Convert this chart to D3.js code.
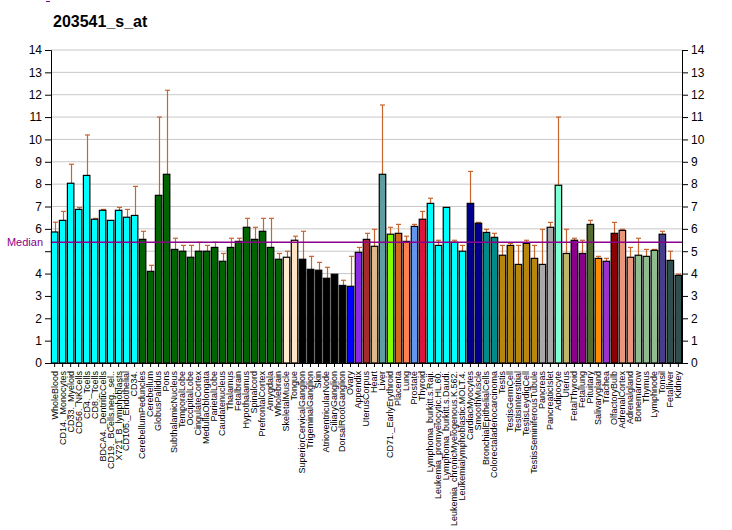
<!DOCTYPE html>
<html><head><meta charset="utf-8">
<script src="https://cdn.jsdelivr.net/npm/d3@7"></script>
<style>body{margin:0;background:#fff}svg{display:block;font-family:"Liberation Sans",Arial,sans-serif}</style>
</head><body><svg id="c" width="732" height="530"></svg>
<script>
const title = "203541_s_at";
const categories = ["WholeBlood","CD14._Monocytes","CD33._Myeloid","CD56._NKCells","CD4._Tcells","CD8._Tcells","BDCA4._DentriticCells","CD19._BCells.neg._sel..","X721_B_lymphoblasts","CD105._Endothelial","CD34.",
"CerebellumPeduncles","Cerebellum","GlobusPallidus","Pons","SubthalamicNucleus","TemporalLobe","OccipitalLobe","CingulateCortex","MedullaOblongata","ParietalLobe","Caudatenucleus","Thalamus","Fetalbrain","Hypothalamus","Spinalcord","PrefrontalCortex","Amygdala","Wholebrain",
"SkeletalMuscle","Tongue","SuperiorCervicalGanglion","TrigeminalGanglion","Skin","AtrioventricularNode","CiliaryGanglion","DorsalRootGanglion","Ovary","Appendix","UterusCorpus","Heart","Liver","CD71._EarlyErythroid","Placenta","Lung","Prostate","Thyroid",
"Lymphoma_burkitt.s.Raji.","Leukemia_promyelocytic.HL.60.","Lymphoma_burkitt.s.Daudi.","Leukemia_chronicMyelogenous.K.562.","Leukemialymphoblastic.MOLT.4.",
"CardiacMyocytes","SmoothMuscle","BronchialEpithelialCells","Colorectaladenocarcinoma","Testis","TestisGermCell","TestisInterstitial","TestisLeydigCell","TestisSeminiferousTubule","Pancreas","PancreaticIslet","Adipocyte","Uterus","FetalThyroid","Fetallung","Pituitary","Salivarygland","Trachea","OlfactoryBulb","AdrenalCortex","Adrenalgland","Bonemarrow","Thymus","Lymphnode","Tonsil","Fetalliver","Kidney"];
const values = [5.86,6.38,8.04,6.87,8.39,6.43,6.83,6.38,6.83,6.52,6.6,
5.53,4.1,7.5,8.44,5.08,5.0,4.73,5.0,5.0,5.17,4.55,5.17,5.44,6.07,5.53,5.89,5.17,4.64,
4.73,5.49,4.64,4.19,4.15,3.79,3.97,3.47,3.43,4.95,5.53,5.22,8.44,5.76,5.8,5.44,6.11,6.43,
7.14,5.26,6.96,5.4,5.0,
7.14,6.25,5.84,5.62,4.82,5.26,4.41,5.35,4.68,4.41,6.07,7.95,4.9,5.49,4.9,6.2,4.68,4.55,5.8,5.93,4.73,4.82,4.77,5.04,5.76,4.59,3.92];
const errTops = [6.3,6.78,8.89,6.95,10.2,6.47,6.87,null,6.96,6.87,7.9,
5.89,4.37,11.0,12.2,5.58,5.26,5.26,5.4,5.26,5.4,4.9,5.58,5.58,6.47,6.07,6.47,6.47,4.9,
5.0,5.67,5.89,4.77,4.5,4.28,null,3.7,4.77,5.17,5.8,5.98,11.54,6.07,6.2,5.67,6.2,6.78,
7.37,5.49,null,5.49,5.26,
8.57,6.29,5.98,5.8,5.26,5.35,5.26,5.49,5.26,5.98,6.29,11.0,5.98,5.58,5.49,6.38,4.77,4.68,6.29,5.98,5.17,5.58,5.08,5.08,5.89,5.0,3.97];
const groups = [0,0,0,0,0,0,0,0,0,0,0,
1,1,1,1,1,1,1,1,1,1,1,1,1,1,1,1,1,1,
2,3,4,4,4,4,4,4,5,6,7,8,9,10,11,12,13,14,
0,0,0,0,0,
15,15,16,16,17,17,17,17,17,18,18,19,20,21,21,22,23,24,25,26,26,27,27,27,28,29,29];
const groupColors = ["#00FFFF","#006400","#FFEBCD","#FFE4C4","#000000","#0000FF","#8A2BE2","#A52A2A","#DEB887","#5F9EA0","#7FFF00","#D2691E","#FF7F50","#6495ED","#DC143C",
"#00008B","#008B8B","#B8860B","#A9A9A9","#7FFFD4","#BDB76B","#8B008B","#556B2F","#FF8C00","#9932CC","#8B0000","#E9967A","#8FBC8F","#483D8B","#2F4F4F"];
const median = 5.4;
const yTicks = [0,1,2,3,4,5,6,7,8,9,10,11,12,13,14];

const svg = d3.select("#c");
const L = 51, R = 682, T = 50, B = 363;
const x = d3.scaleBand().domain(categories).range([L, R]).paddingInner(0.19).paddingOuter(0.05);
const y = d3.scaleLinear().domain([0, 14]).range([B, T]);

// grid
svg.append("g").selectAll("line").data(yTicks.filter(d => d > 0)).join("line")
  .attr("x1", L).attr("x2", R).attr("y1", d => y(d)).attr("y2", d => y(d))
  .attr("stroke", "#c8c8c8").attr("stroke-width", 1);

// error bars
const eg = svg.append("g").attr("stroke", "#C8642D").attr("stroke-width", 1.2);
categories.forEach((c, i) => {
  if (errTops[i] == null) return;
  const cx = Math.round(x(c) + x.bandwidth() / 2) + 0.5;
  eg.append("line").attr("x1", cx).attr("x2", cx).attr("y1", y(values[i])).attr("y2", y(errTops[i]));
  eg.append("line").attr("x1", cx - 2.5).attr("x2", cx + 2.5).attr("y1", y(errTops[i])).attr("y2", y(errTops[i]));
});

// bars
svg.append("g").selectAll("rect").data(categories).join("rect")
  .attr("x", d => x(d)).attr("width", x.bandwidth())
  .attr("y", (d, i) => y(values[i])).attr("height", (d, i) => B - y(values[i]))
  .attr("fill", (d, i) => groupColors[groups[i]])
  .attr("stroke", "#000").attr("stroke-width", 1.2);

// median
svg.append("line").attr("x1", L).attr("x2", R).attr("y1", y(median)).attr("y2", y(median))
  .attr("stroke", "#8B008B").attr("stroke-width", 1.5);
svg.append("text").attr("x", 43).attr("y", y(median) + 4).attr("text-anchor", "end")
  .attr("font-size", 11).attr("fill", "#8B008B").text("Median");

// left axis
const la = svg.append("g").attr("transform", `translate(${L},0)`)
  .call(d3.axisLeft(y).tickValues(yTicks).tickSize(6).tickPadding(3).tickFormat(d3.format("d")));
la.selectAll("text").filter(d => d === 5).remove();
// right axis
svg.append("g").attr("transform", `translate(${R},0)`)
  .call(d3.axisRight(y).tickValues(yTicks).tickSize(6).tickPadding(3).tickFormat(d3.format("d")));
svg.selectAll(".domain").attr("stroke", "#000");
svg.selectAll(".tick line").attr("stroke", "#000");
svg.selectAll(".tick text").attr("font-size", 12).attr("fill", "#000").attr("font-family", "Liberation Sans, Arial, sans-serif");

// bottom axis
const ba = svg.append("g").attr("transform", `translate(0,${B})`)
  .call(d3.axisBottom(x).tickSize(4).tickSizeOuter(0));
ba.select(".domain").attr("stroke", "#000");
ba.selectAll(".tick line").attr("stroke", "#000");
ba.selectAll(".tick text").attr("font-size", 9).attr("fill", "#000")
  .attr("font-family", "Liberation Sans, Arial, sans-serif")
  .attr("transform", "rotate(-90)").attr("text-anchor", "end")
  .attr("x", -8).attr("y", 0).attr("dy", "0.32em");

// title
svg.append("text").attr("x", 53).attr("y", 27).attr("font-size", 16).attr("font-weight", "bold").text(title);
svg.append("line").attr("x1", 46).attr("x2", 50).attr("y1", 1.5).attr("y2", 1.5).attr("stroke", "#8B008B");
</script></body></html>
